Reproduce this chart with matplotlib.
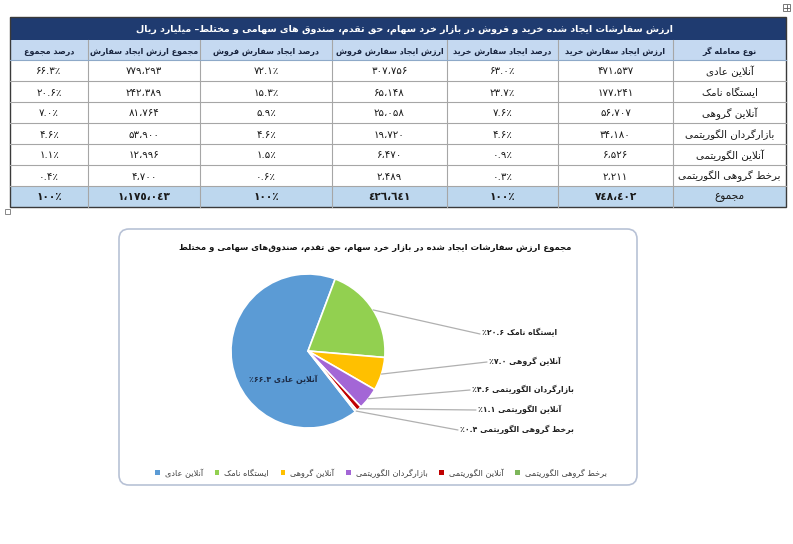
import matplotlib
matplotlib.use('Agg')
import matplotlib.pyplot as plt
from matplotlib.patches import Rectangle, FancyBboxPatch, Patch
import numpy as np

plt.rcParams['font.family'] = ['DejaVu Sans']

# ---------------- data ----------------
trader_types = ['آنلاین عادی', 'ایستگاه نامک', 'آنلاین گروهی',
                'بازارگردان الگوریتمی', 'آنلاین الگوریتمی', 'برخط گروهی الگوریتمی']
buy_value = [471537, 177241, 56707, 34180, 6526, 2211]
buy_pct = [63.0, 23.7, 7.6, 4.6, 0.9, 0.3]
sell_value = [307756, 65148, 25058, 19720, 6470, 2489]
sell_pct = [72.1, 15.3, 5.9, 4.6, 1.5, 0.6]
total_value = [779293, 242389, 81764, 53900, 12996, 4700]
total_pct = [66.3, 20.6, 7.0, 4.6, 1.1, 0.4]
buy_total = 748402
sell_total = 426641
grand_total = 1175043
headers = ['نوع معامله گر', 'ارزش ایجاد سفارش خرید', 'درصد ایجاد سفارش خرید',
           'ارزش ایجاد سفارش فروش', 'درصد ایجاد سفارش فروش',
           'مجموع ارزش ایجاد سفارش', 'درصد مجموع']
total_label = 'مجموع'
table_title = 'ارزش سفارشات ایجاد شده خرید و فروش در بازار خرد سهام، حق تقدم، صندوق های سهامی و مختلط– میلیارد ریال'
chart_title = 'مجموع ارزش سفارشات ایجاد شده در بازار خرد سهام، حق تقدم، صندوق\u200cهای سهامی و مختلط'
pie_colors = ['#5B9BD5', '#92D050', '#FFC000', '#A366D6', '#C00000', '#7DB65A']

# ---------------- Persian shaping helpers ----------------
def _f(*codes):
    return tuple(chr(c) if c else None for c in codes)

FORMS = {
    '\u0621': _f(0xFE80, 0, 0, 0), '\u0622': _f(0xFE81, 0xFE82, 0, 0),
    '\u0623': _f(0xFE83, 0xFE84, 0, 0), '\u0624': _f(0xFE85, 0xFE86, 0, 0),
    '\u0625': _f(0xFE87, 0xFE88, 0, 0), '\u0626': _f(0xFE89, 0xFE8A, 0xFE8B, 0xFE8C),
    '\u0627': _f(0xFE8D, 0xFE8E, 0, 0), '\u0628': _f(0xFE8F, 0xFE90, 0xFE91, 0xFE92),
    '\u0629': _f(0xFE93, 0xFE94, 0, 0), '\u062A': _f(0xFE95, 0xFE96, 0xFE97, 0xFE98),
    '\u062B': _f(0xFE99, 0xFE9A, 0xFE9B, 0xFE9C), '\u062C': _f(0xFE9D, 0xFE9E, 0xFE9F, 0xFEA0),
    '\u062D': _f(0xFEA1, 0xFEA2, 0xFEA3, 0xFEA4), '\u062E': _f(0xFEA5, 0xFEA6, 0xFEA7, 0xFEA8),
    '\u062F': _f(0xFEA9, 0xFEAA, 0, 0), '\u0630': _f(0xFEAB, 0xFEAC, 0, 0),
    '\u0631': _f(0xFEAD, 0xFEAE, 0, 0), '\u0632': _f(0xFEAF, 0xFEB0, 0, 0),
    '\u0633': _f(0xFEB1, 0xFEB2, 0xFEB3, 0xFEB4), '\u0634': _f(0xFEB5, 0xFEB6, 0xFEB7, 0xFEB8),
    '\u0635': _f(0xFEB9, 0xFEBA, 0xFEBB, 0xFEBC), '\u0636': _f(0xFEBD, 0xFEBE, 0xFEBF, 0xFEC0),
    '\u0637': _f(0xFEC1, 0xFEC2, 0xFEC3, 0xFEC4), '\u0638': _f(0xFEC5, 0xFEC6, 0xFEC7, 0xFEC8),
    '\u0639': _f(0xFEC9, 0xFECA, 0xFECB, 0xFECC), '\u063A': _f(0xFECD, 0xFECE, 0xFECF, 0xFED0),
    '\u0641': _f(0xFED1, 0xFED2, 0xFED3, 0xFED4), '\u0642': _f(0xFED5, 0xFED6, 0xFED7, 0xFED8),
    '\u0643': _f(0xFED9, 0xFEDA, 0xFEDB, 0xFEDC), '\u0644': _f(0xFEDD, 0xFEDE, 0xFEDF, 0xFEE0),
    '\u0645': _f(0xFEE1, 0xFEE2, 0xFEE3, 0xFEE4), '\u0646': _f(0xFEE5, 0xFEE6, 0xFEE7, 0xFEE8),
    '\u0647': _f(0xFEE9, 0xFEEA, 0xFEEB, 0xFEEC), '\u0648': _f(0xFEED, 0xFEEE, 0, 0),
    '\u0649': _f(0xFEEF, 0xFEF0, 0, 0), '\u064A': _f(0xFEF1, 0xFEF2, 0xFEF3, 0xFEF4),
    '\u067E': _f(0xFB56, 0xFB57, 0xFB58, 0xFB59), '\u0686': _f(0xFB7A, 0xFB7B, 0xFB7C, 0xFB7D),
    '\u0698': _f(0xFB8A, 0xFB8B, 0, 0), '\u06A9': _f(0xFB8E, 0xFB8F, 0xFB90, 0xFB91),
    '\u06AF': _f(0xFB92, 0xFB93, 0xFB94, 0xFB95), '\u06CC': _f(0xFBFC, 0xFBFD, 0xFBFE, 0xFBFF),
}
LAM_ALEF = {'\u0627': _f(0xFEFB, 0xFEFC), '\u0622': _f(0xFEF5, 0xFEF6)}


def _dual(c):
    return c in FORMS and FORMS[c][2] is not None


def shape(s):
    s = s.replace('\u064A', '\u06CC').replace('\u0643', '\u06A9')
    ch = list(s)
    n = len(ch)
    out = []
    i = 0
    while i < n:
        c = ch[i]
        if c not in FORMS:
            if c != '\u200c':
                out.append(c)
            i += 1
            continue
        prev = ch[i - 1] if i > 0 else None
        jp = prev is not None and _dual(prev)
        if c == '\u0644' and i + 1 < n and ch[i + 1] in LAM_ALEF:
            lig = LAM_ALEF[ch[i + 1]]
            out.append(lig[1] if jp else lig[0])
            i += 2
            continue
        nxt = ch[i + 1] if i + 1 < n else None
        jn = _dual(c) and nxt is not None and nxt in FORMS and nxt != '\u0621'
        f = FORMS[c]
        if jp and jn:
            g = f[3]
        elif jp:
            g = f[1] or f[0]
        elif jn:
            g = f[2]
        else:
            g = f[0]
        out.append(g)
        i += 1
    return ''.join(out)


def rtl(s):
    return shape(s)[::-1]


FA = str.maketrans('0123456789', '۰۱۲۳۴۵۶۷۸۹')
AR = str.maketrans('0123456789', '٠١٢٣٤٥٦٧٨٩')


def fa_num(v, table=FA):
    return format(v, ',').replace(',', '،').translate(table)


def fa_pct(p):
    return (f'{p:.1f}'.translate(FA)) + '٪'


# ---------------- figure ----------------
W, H = 793, 544
fig = plt.figure(figsize=(W / 100, H / 100), dpi=100)
ov = fig.add_axes([0, 0, 1, 1])
ov.set_xlim(0, W)
ov.set_ylim(H, 0)
ov.axis('off')

# ---------------- table ----------------
col_edges = [10, 88, 200, 332, 447, 558, 673, 786]  # left -> right
title_top, header_top, body_top, row_h = 17, 40, 60, 21
n_rows = len(trader_types)
total_top = body_top + n_rows * row_h
table_bottom = total_top + 21
navy = '#1F3B70'
header_bg = '#C5D9F1'
total_bg = '#BDD7EE'
grid = '#A6A6A6'
txt = '#1A1A1A'

ov.add_patch(Rectangle((col_edges[0], title_top), col_edges[-1] - col_edges[0],
                       header_top - title_top, facecolor=navy, edgecolor='none'))
ov.text(404, (title_top + header_top) / 2 + 1,
        rtl(table_title), color='white', fontsize=6.8, fontweight='bold',
        ha='center', va='center')
ov.add_patch(Rectangle((col_edges[0], header_top), col_edges[-1] - col_edges[0],
                       body_top - header_top, facecolor=header_bg, edgecolor='none'))
ov.add_patch(Rectangle((col_edges[0], total_top), col_edges[-1] - col_edges[0],
                       table_bottom - total_top, facecolor=total_bg, edgecolor='none'))

ncol = len(headers)


def col_center(k):
    j = ncol - 1 - k
    return (col_edges[j] + col_edges[j + 1]) / 2


for k, h in enumerate(headers):
    ov.text(col_center(k), (header_top + body_top) / 2 + 1, rtl(h), fontsize=5.8,
            fontweight='bold', color='#17233D', ha='center', va='center')

for r in range(n_rows):
    yc = body_top + r * row_h + row_h / 2 + 1
    cells = [rtl(trader_types[r]), fa_num(buy_value[r]), fa_pct(buy_pct[r]),
             fa_num(sell_value[r]), fa_pct(sell_pct[r]), fa_num(total_value[r]),
             fa_pct(total_pct[r])]
    for k, c in enumerate(cells):
        ov.text(col_center(k), yc, c, fontsize=7.4, color=txt, ha='center', va='center')

yc = total_top + (table_bottom - total_top) / 2 + 1
tcells = [rtl(total_label), fa_num(buy_total, AR), '۱۰۰٪', fa_num(sell_total, AR),
          '۱۰۰٪', fa_num(grand_total, AR), '۱۰۰٪']
for k, c in enumerate(tcells):
    ov.text(col_center(k), yc, c, fontsize=7.6, fontweight='bold' if k else 'normal',
            color=txt, ha='center', va='center')

# grid lines
for y in [body_top + r * row_h for r in range(1, n_rows + 1)]:
    ov.plot([col_edges[0], col_edges[-1]], [y, y], color=grid, lw=0.8)
for x in col_edges[1:-1]:
    ov.plot([x, x], [header_top, table_bottom], color=grid, lw=0.8)
ov.plot([col_edges[0], col_edges[-1]], [body_top, body_top], color='#8EA9C8', lw=0.8)
ov.add_patch(Rectangle((col_edges[0], title_top), col_edges[-1] - col_edges[0],
                       table_bottom - title_top, facecolor='none', edgecolor='#3A3A3A', lw=1.0))
# small handles
ov.add_patch(Rectangle((783, 4), 7, 7, facecolor='white', edgecolor='#777777', lw=0.7))
ov.plot([786.5, 786.5], [5, 10], color='#555555', lw=0.6)
ov.plot([784, 789], [7.5, 7.5], color='#555555', lw=0.6)
ov.add_patch(Rectangle((5, 209), 5, 5, facecolor='white', edgecolor='#888888', lw=0.7))

# ---------------- chart frame ----------------
ov.add_patch(FancyBboxPatch((119, 229), 518, 256, boxstyle='round,pad=0,rounding_size=10',
                            facecolor='white', edgecolor='#B8C2D6', lw=1.2))
ov.text(375, 247, rtl(chart_title), fontsize=6.1, fontweight='bold', color='#111111',
        ha='center', va='center')

# ---------------- pie ----------------
cx, cy, R = 308, 351, 77
k = 1.25
half = R * k
pax = fig.add_axes([(cx - half) / W, (H - cy - half) / H, 2 * half / W, 2 * half / H])
pax.set_xlim(-k, k)
pax.set_ylim(-k, k)
pax.set_aspect('equal')
pax.axis('off')
pax.patch.set_alpha(0)
wedges, _ = pax.pie(total_pct, colors=pie_colors, startangle=-52, counterclock=False,
                    radius=1, wedgeprops=dict(edgecolor='white', linewidth=1.2))

label_anchor = [None, (480, 334), (487, 362), (470, 390), (476, 410), (458, 430)]
for i, w in enumerate(wedges):
    lab = '٪' + f'{total_pct[i]:.1f}'.translate(FA) + ' ' + rtl(trader_types[i])
    if label_anchor[i] is None:
        pax.text(283, 379, lab, transform=ov.transData, fontsize=5.6, fontweight='bold',
                 color='#1C2A44', ha='center', va='center')
        continue
    mid = np.deg2rad((w.theta1 + w.theta2) / 2)
    ax_, ay_ = label_anchor[i]
    pax.annotate('', xy=(np.cos(mid), np.sin(mid)), xycoords='data',
                 xytext=(ax_, ay_), textcoords=ov.transData,
                 arrowprops=dict(arrowstyle='-', color='#B0B0B0', lw=0.9,
                                 shrinkA=0, shrinkB=0), annotation_clip=False)
    ov.text(ax_ + 2, ay_ - 1, lab, fontsize=5.6, fontweight='bold', color='#222222',
            ha='left', va='center')

# ---------------- legend ----------------
handles = [Patch(facecolor=c, edgecolor='none') for c in pie_colors]
fig.legend(handles, [rtl(t) for t in trader_types], loc='center', ncol=6,
           bbox_to_anchor=(381 / W, 1 - 473 / H), frameon=False, fontsize=5.9,
           handlelength=0.55, handleheight=0.55, handletextpad=0.6, columnspacing=1.45,
           labelcolor='#404040')

fig.savefig('out.png', dpi=100)
